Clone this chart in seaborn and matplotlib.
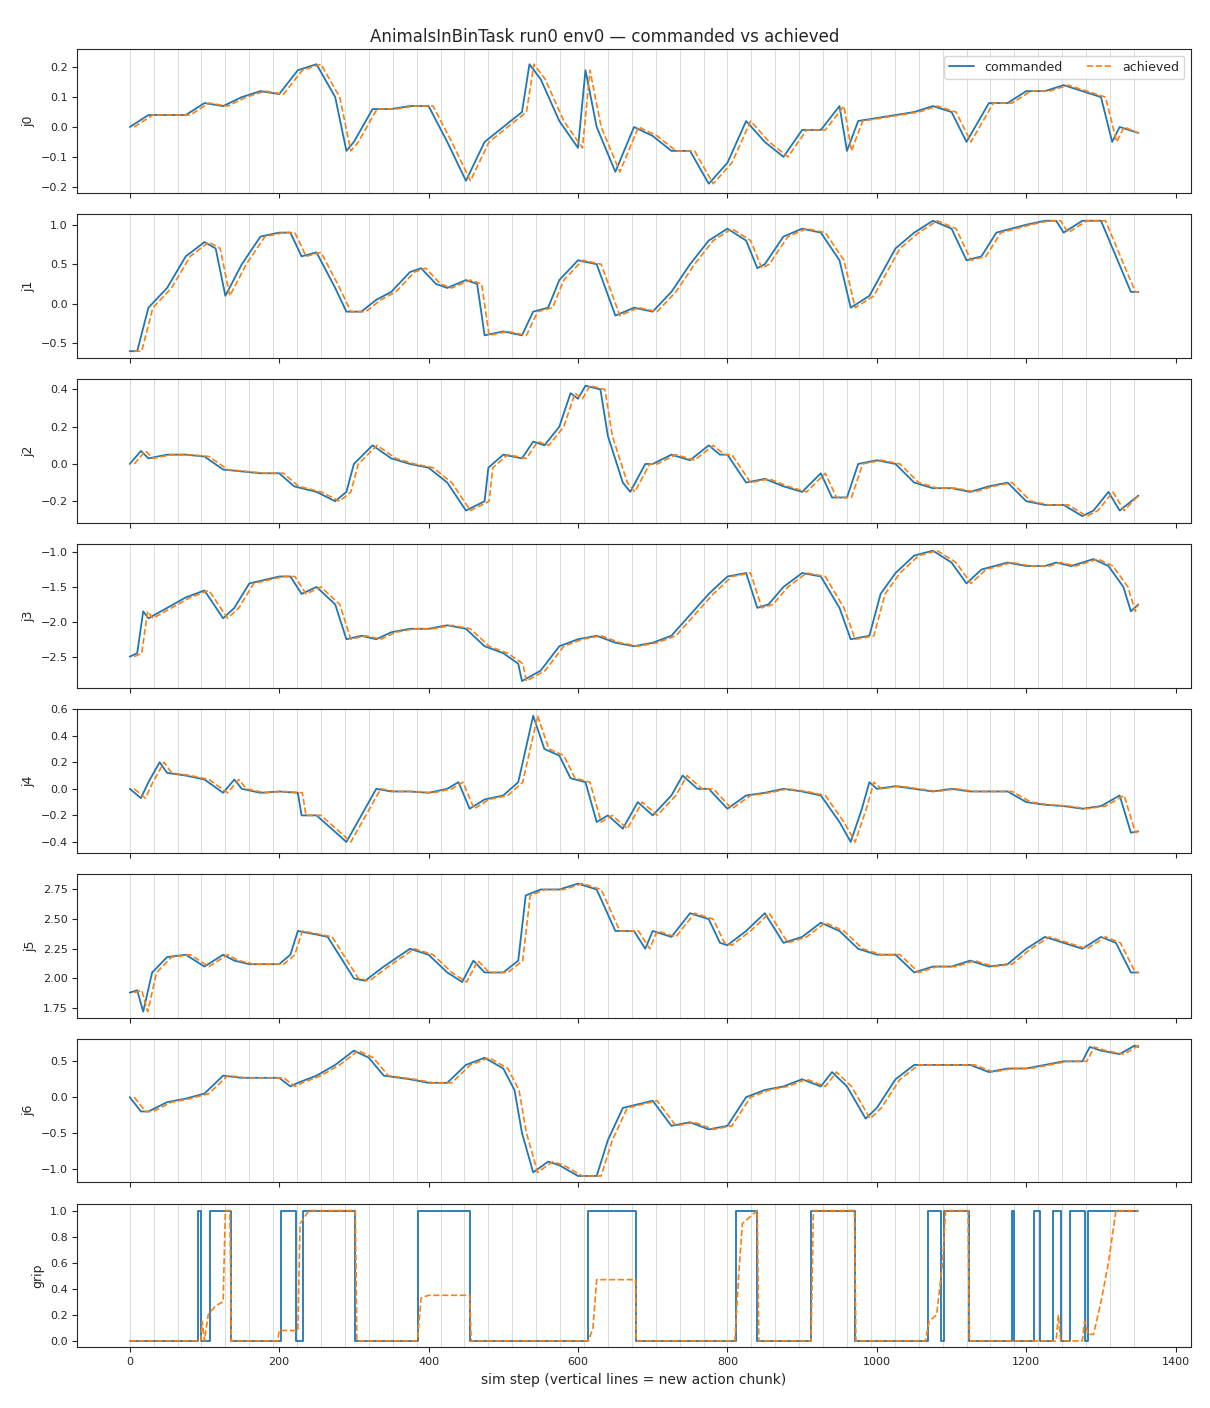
import numpy as np
import pandas as pd
import matplotlib
matplotlib.use("Agg")
import matplotlib.pyplot as plt
import seaborn as sns

sns.set_style("ticks")
plt.rcParams['font.family'] = ['DejaVu Sans']

j0_s = [0,25,50,75,100,125,150,175,200,225,250,275,290,300,325,350,375,400,425,450,475,500,525,535,550,575,600,610,625,650,675,700,725,750,775,800,825,850,875,900,925,950,960,975,1000,1025,1050,1075,1100,1120,1150,1175,1200,1225,1250,1275,1300,1315,1325,1350]
j0_v = [0.0,0.04,0.04,0.04,0.08,0.07,0.10,0.12,0.11,0.19,0.21,0.10,-0.08,-0.05,0.06,0.06,0.07,0.07,-0.05,-0.18,-0.05,0.0,0.05,0.21,0.16,0.02,-0.07,0.19,0.0,-0.15,0.0,-0.03,-0.08,-0.08,-0.19,-0.12,0.02,-0.05,-0.10,-0.01,-0.01,0.07,-0.08,0.02,0.03,0.04,0.05,0.07,0.05,-0.05,0.08,0.08,0.12,0.12,0.14,0.12,0.10,-0.05,0.0,-0.02]

j1_s = [0,10,25,50,75,100,115,128,150,175,200,215,230,250,275,290,310,330,350,375,390,410,425,450,465,475,500,525,540,560,575,600,625,650,675,700,725,750,775,800,825,840,850,875,900,925,950,965,990,1025,1050,1075,1100,1120,1140,1160,1200,1225,1240,1250,1275,1300,1320,1340,1350]
j1_v = [-0.6,-0.6,-0.05,0.2,0.6,0.78,0.7,0.1,0.5,0.85,0.9,0.9,0.6,0.65,0.2,-0.1,-0.1,0.05,0.15,0.4,0.45,0.25,0.2,0.3,0.25,-0.4,-0.35,-0.4,-0.1,-0.05,0.3,0.55,0.5,-0.15,-0.05,-0.1,0.15,0.5,0.8,0.95,0.8,0.45,0.5,0.85,0.95,0.9,0.55,-0.05,0.1,0.7,0.9,1.05,0.95,0.55,0.6,0.9,1.0,1.05,1.05,0.9,1.05,1.05,0.6,0.15,0.15]

j2_s = [0,15,25,50,75,100,125,150,175,200,220,250,275,290,300,325,350,375,400,425,450,475,480,500,525,540,555,575,590,600,610,630,640,660,670,690,700,725,750,775,790,800,825,850,875,900,925,940,960,975,1000,1025,1050,1075,1100,1125,1150,1175,1200,1225,1250,1275,1290,1310,1325,1350]
j2_v = [0.0,0.07,0.03,0.05,0.05,0.04,-0.03,-0.04,-0.05,-0.05,-0.12,-0.15,-0.2,-0.15,0.0,0.1,0.03,0.0,-0.02,-0.1,-0.25,-0.2,-0.02,0.05,0.03,0.12,0.1,0.2,0.38,0.35,0.42,0.4,0.15,-0.1,-0.15,0.0,0.0,0.05,0.02,0.1,0.05,0.05,-0.1,-0.08,-0.12,-0.15,-0.05,-0.18,-0.18,0.0,0.02,0.0,-0.1,-0.13,-0.13,-0.15,-0.12,-0.1,-0.2,-0.22,-0.22,-0.28,-0.25,-0.15,-0.25,-0.17]

j3_s = [0,10,18,25,50,75,100,125,140,160,200,215,230,250,275,290,310,330,350,375,400,425,450,475,500,520,525,550,575,600,625,650,675,700,725,750,775,800,825,840,855,875,900,925,950,965,990,1005,1025,1050,1075,1100,1120,1140,1175,1200,1225,1240,1260,1290,1310,1330,1340,1350]
j3_v = [-2.5,-2.45,-1.85,-1.95,-1.8,-1.65,-1.55,-1.95,-1.8,-1.45,-1.35,-1.35,-1.6,-1.5,-1.75,-2.25,-2.2,-2.25,-2.15,-2.1,-2.1,-2.05,-2.1,-2.35,-2.45,-2.6,-2.85,-2.7,-2.35,-2.25,-2.2,-2.3,-2.35,-2.3,-2.2,-1.9,-1.6,-1.35,-1.3,-1.8,-1.75,-1.5,-1.3,-1.35,-1.8,-2.25,-2.2,-1.6,-1.3,-1.05,-0.98,-1.15,-1.45,-1.25,-1.15,-1.2,-1.2,-1.15,-1.2,-1.1,-1.2,-1.5,-1.85,-1.75]

j4_s = [0,15,25,40,50,75,100,125,140,150,175,200,225,230,250,270,290,310,330,350,375,400,425,440,455,475,500,520,540,555,575,590,610,625,640,660,680,700,725,740,760,775,800,825,850,875,900,925,950,965,980,990,1000,1025,1050,1075,1100,1125,1150,1175,1200,1225,1250,1275,1300,1325,1340,1350]
j4_v = [0.0,-0.07,0.05,0.2,0.12,0.1,0.07,-0.03,0.07,0.0,-0.03,-0.02,-0.03,-0.2,-0.2,-0.3,-0.4,-0.2,0.0,-0.02,-0.02,-0.03,0.0,0.05,-0.15,-0.08,-0.05,0.05,0.55,0.3,0.25,0.08,0.05,-0.25,-0.2,-0.3,-0.1,-0.2,-0.05,0.1,0.0,0.0,-0.15,-0.05,-0.03,0.0,-0.02,-0.05,-0.25,-0.4,-0.15,0.05,0.0,0.02,0.0,-0.02,0.0,-0.02,-0.02,-0.02,-0.1,-0.12,-0.13,-0.15,-0.13,-0.05,-0.33,-0.32]

j5_s = [0,10,18,30,50,75,100,125,140,160,200,215,225,250,265,280,300,315,340,375,400,425,445,460,475,500,520,530,550,575,600,625,650,675,690,700,725,750,775,790,800,825,850,875,900,925,950,975,1000,1025,1050,1075,1100,1125,1150,1175,1200,1225,1250,1275,1300,1320,1340,1350]
j5_v = [1.88,1.9,1.72,2.05,2.18,2.2,2.1,2.2,2.15,2.12,2.12,2.2,2.4,2.37,2.35,2.2,2.0,1.98,2.1,2.25,2.2,2.05,1.97,2.15,2.05,2.05,2.15,2.7,2.75,2.75,2.8,2.75,2.4,2.4,2.25,2.4,2.35,2.55,2.5,2.3,2.28,2.4,2.55,2.3,2.35,2.47,2.4,2.25,2.2,2.2,2.05,2.1,2.1,2.15,2.1,2.12,2.25,2.35,2.3,2.25,2.35,2.3,2.05,2.05]

j6_s = [0,15,25,50,75,100,125,150,175,200,215,225,250,275,300,320,340,375,400,425,450,475,500,515,525,540,560,575,600,625,640,660,700,725,750,775,800,825,850,875,900,925,940,960,985,1000,1025,1050,1100,1125,1150,1175,1200,1225,1250,1275,1285,1300,1325,1345,1350]
j6_v = [0.0,-0.2,-0.2,-0.07,-0.02,0.05,0.3,0.27,0.27,0.27,0.15,0.2,0.3,0.45,0.65,0.55,0.3,0.25,0.2,0.2,0.45,0.55,0.4,0.1,-0.5,-1.05,-0.9,-0.95,-1.1,-1.1,-0.6,-0.15,-0.05,-0.4,-0.35,-0.45,-0.4,0.0,0.1,0.15,0.25,0.15,0.35,0.15,-0.3,-0.15,0.25,0.45,0.45,0.45,0.35,0.4,0.4,0.45,0.5,0.5,0.7,0.65,0.6,0.72,0.7]

grip_cmd_s = [0,91,96,108,135,203,223,232,302,386,456,614,677,811,840,912,971,1069,1086,1090,1123,1181,1183,1211,1218,1236,1246,1258,1278,1283,1350]
grip_cmd_v = [0,1,0,1,0,1,0,1,0,1,0,1,0,1,0,1,0,1,0,1,0,1,0,1,0,1,0,1,0,1,1]
grip_ach_s = [0,95,97,100,105,115,125,128,134,136,198,200,225,228,240,302,304,385,390,400,455,457,614,620,625,677,678,810,815,820,840,842,912,915,970,972,1065,1070,1080,1088,1092,1122,1124,1240,1243,1246,1275,1278,1283,1290,1300,1310,1320,1350]
grip_ach_v = [0,0,0.15,0,0.2,0.27,0.3,1.0,1.0,0,0,0.08,0.08,0.9,1.0,1.0,0,0,0.33,0.35,0.35,0,0,0.1,0.47,0.47,0,0,0.5,0.9,1.0,0,0,1.0,1.0,0,0,0.15,0.2,0.6,1.0,1.0,0,0,0.2,0,0,0.15,0.05,0.05,0.3,0.6,1.0,1.0]

LAG = 6
joints = [("j0", j0_s, j0_v), ("j1", j1_s, j1_v), ("j2", j2_s, j2_v), ("j3", j3_s, j3_v),
          ("j4", j4_s, j4_v), ("j5", j5_s, j5_v), ("j6", j6_s, j6_v)]

fig, axes = plt.subplots(8, 1, figsize=(12.1, 14.08), dpi=100, sharex=True)
fig.subplots_adjust(left=0.064, right=0.984, top=0.965, bottom=0.043, hspace=0.15)
blue, orange = "#1f77b4", "#ff7f0e"
chunks = np.arange(0, 1351, 32)

for ax, (name, s, v) in zip(axes[:7], joints):
    for c in chunks:
        ax.axvline(c, color="#cccccc", lw=0.7, alpha=0.7, zorder=0)
    s = np.array(s)
    sns.lineplot(x=s, y=v, ax=ax, color=blue, lw=1.3, estimator=None, sort=False, label="commanded")
    sa = np.minimum(s + LAG, 1350)
    sns.lineplot(x=sa, y=v, ax=ax, color=orange, lw=1.2, ls="--", estimator=None, sort=False, label="achieved")
    ax.set_ylabel(name, fontsize=9)
    ax.tick_params(labelsize=8)
    if name == "j0":
        ax.legend(loc="upper right", ncol=2, fontsize=9)
    else:
        ax.get_legend().remove()
axes[0].set_ylim(-0.22, 0.26)
axes[4].set_ylim(-0.48, 0.6)
axes[5].set_ylim(1.67, 2.88)
axes[5].set_yticks([1.75, 2.0, 2.25, 2.5, 2.75])

ax = axes[7]
for c in chunks:
    ax.axvline(c, color="#cccccc", lw=0.7, alpha=0.7, zorder=0)
ax.step(grip_cmd_s, grip_cmd_v, where="post", color=blue, lw=1.3)
sns.lineplot(x=grip_ach_s, y=grip_ach_v, ax=ax, color=orange, lw=1.2, ls="--", estimator=None, sort=False)
ax.set_ylabel("grip", fontsize=9)
ax.tick_params(labelsize=8)
ax.set_yticks([0, 0.2, 0.4, 0.6, 0.8, 1.0])
ax.set_xlim(-70, 1420)
ax.set_xlabel("sim step (vertical lines = new action chunk)", fontsize=10)
fig.suptitle("AnimalsInBinTask run0 env0 — commanded vs achieved", fontsize=12, y=0.98)
fig.savefig("out.png", dpi=100)
